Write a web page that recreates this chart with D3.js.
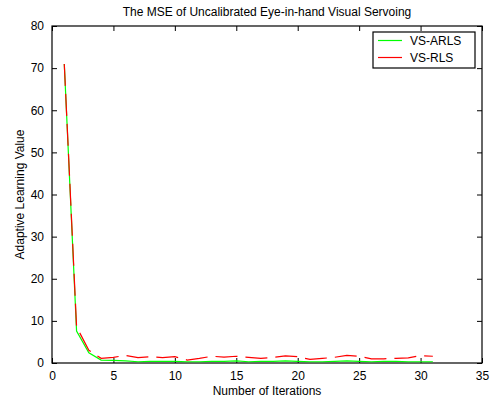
<!DOCTYPE html>
<html>
<head>
<meta charset="utf-8">
<script src="https://cdn.jsdelivr.net/npm/d3@7"></script>
<style>
  body { margin: 0; background: #fff; }
  text { font-family: "Liberation Sans", Arial, sans-serif; }
</style>
</head>
<body>
<div id="chart"></div>
<script>
// iterations and series values
var iterations = [1,2,3,4,5,6,7,8,9,10,11,12,13,14,15,16,17,18,19,20,21,22,23,24,25,26,27,28,29,30,31];
var arls = [71,7.6,2.4,0.7,0.6,0.5,0.3,0.4,0.4,0.4,0.3,0.3,0.4,0.4,0.5,0.3,0.4,0.4,0.5,0.4,0.3,0.3,0.4,0.5,0.4,0.3,0.4,0.4,0.3,0.3,0.3];
var rls = [71,8.6,3.0,1.1,1.35,1.8,1.3,1.5,1.3,1.5,0.7,1.1,1.6,1.4,1.6,1.35,1.1,1.35,1.7,1.5,0.85,1.1,1.35,1.8,1.6,1.0,1.0,1.1,1.2,1.75,1.6];
var xTicks = [0,5,10,15,20,25,30,35];
var yTicks = [0,10,20,30,40,50,60,70,80];
var seriesNames = ["VS-ARLS", "VS-RLS"];

var W = 491, H = 403;
var margin = {top: 26, right: 9, bottom: 40, left: 52};
var w = W - margin.left - margin.right,
    h = H - margin.top - margin.bottom;

var svg = d3.select("#chart").append("svg")
  .attr("width", W)
  .attr("height", H);

var g = svg.append("g")
  .attr("transform", "translate(" + margin.left + "," + margin.top + ")");

var x = d3.scaleLinear().domain([0, 35]).range([0, w]);
var y = d3.scaleLinear().domain([0, 80]).range([h, 0]);

// axes, ticks pointing inward like matlab
function styleAxis(sel) {
  sel.select(".domain").remove();
  sel.selectAll("line").attr("stroke", "#000");
  sel.selectAll("text").attr("font-size", "12px").attr("fill", "#000");
}
g.append("g")
  .attr("transform", "translate(0," + h + ")")
  .call(d3.axisBottom(x).tickValues(xTicks).tickSizeInner(-5).tickSizeOuter(0).tickPadding(8))
  .call(styleAxis);
g.append("g")
  .call(d3.axisTop(x).tickValues(xTicks).tickSizeInner(-5).tickSizeOuter(0).tickFormat(""))
  .call(styleAxis);
g.append("g")
  .call(d3.axisLeft(y).tickValues(yTicks).tickSizeInner(-5).tickSizeOuter(0).tickPadding(8))
  .call(styleAxis);
g.append("g")
  .attr("transform", "translate(" + w + ",0)")
  .call(d3.axisRight(y).tickValues(yTicks).tickSizeInner(-5).tickSizeOuter(0).tickFormat(""))
  .call(styleAxis);

// box
g.append("rect")
  .attr("width", w).attr("height", h)
  .attr("fill", "none").attr("stroke", "#000").attr("stroke-width", 1.2);

var line = d3.line()
  .x(function(d, i) { return x(iterations[i]); })
  .y(function(d) { return y(d); });

g.append("path")
  .datum(arls)
  .attr("d", line)
  .attr("fill", "none")
  .attr("stroke", "#00ff00")
  .attr("stroke-width", 1.2);

g.append("path")
  .datum(rls)
  .attr("d", line)
  .attr("fill", "none")
  .attr("stroke", "#ff0000")
  .attr("stroke-width", 1.2)
  .attr("stroke-dasharray", "22,8");

// title and labels
svg.append("text")
  .attr("x", margin.left + w / 2).attr("y", 16)
  .attr("text-anchor", "middle").attr("font-size", "12px")
  .text("The MSE of Uncalibrated Eye-in-hand Visual Servoing");
svg.append("text")
  .attr("x", margin.left + w / 2).attr("y", 395)
  .attr("text-anchor", "middle").attr("font-size", "12px")
  .text("Number of Iterations");
svg.append("text")
  .attr("transform", "translate(24," + (margin.top + h / 2) + ") rotate(-90)")
  .attr("text-anchor", "middle").attr("font-size", "12px")
  .text("Adaptive Learning Value");

// legend
var leg = svg.append("g").attr("transform", "translate(373,32)");
leg.append("rect")
  .attr("width", 102).attr("height", 36)
  .attr("fill", "#fff").attr("stroke", "#000").attr("stroke-width", 1.2);
var colors = ["#00ff00", "#ff0000"];
seriesNames.forEach(function(name, i) {
  leg.append("line")
    .attr("x1", 5).attr("x2", 29)
    .attr("y1", 8.5 + i * 17).attr("y2", 8.5 + i * 17)
    .attr("stroke", colors[i]).attr("stroke-width", 1.2);
  leg.append("text")
    .attr("x", 37).attr("y", 13 + i * 17)
    .attr("font-size", "12px")
    .text(name);
});
</script>
</body>
</html>
